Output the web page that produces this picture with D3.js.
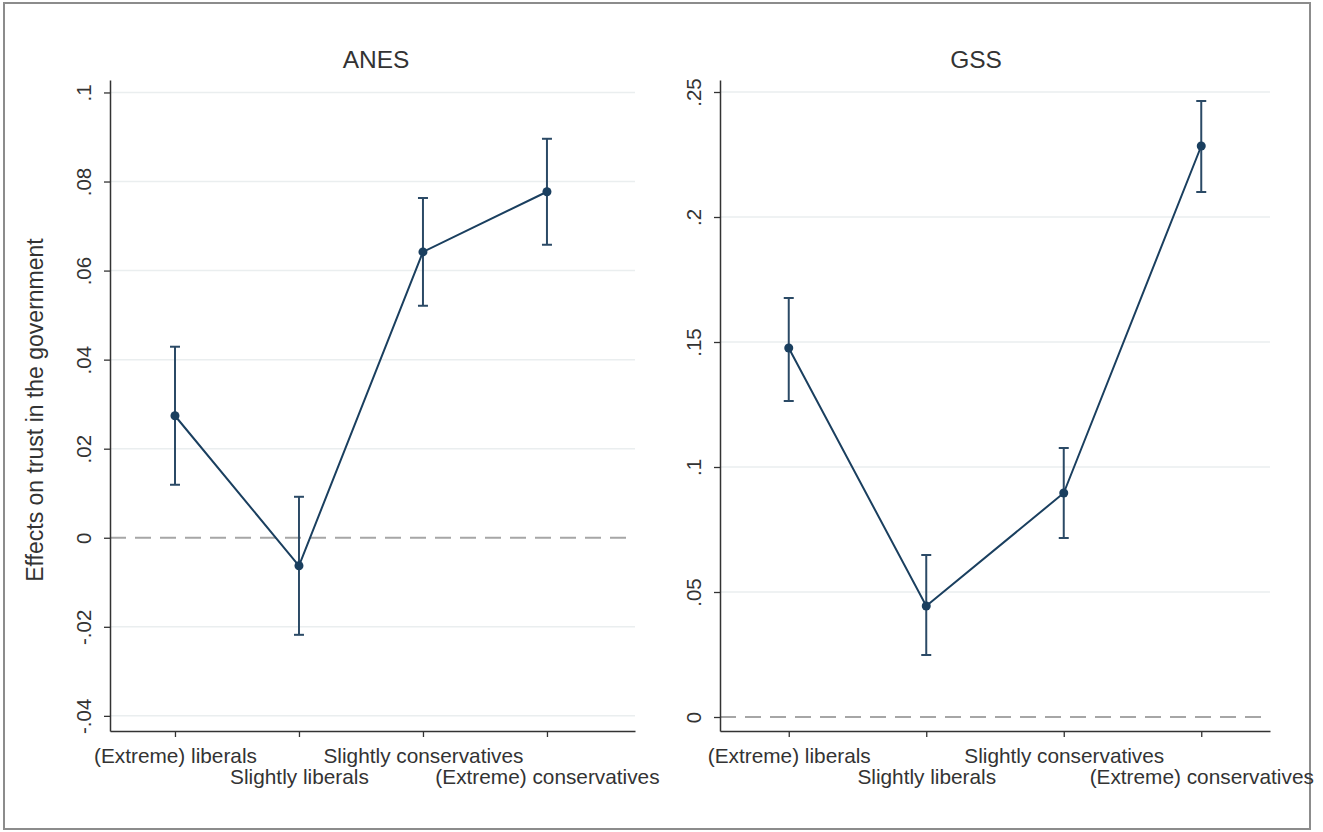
<!DOCTYPE html>
<html>
<head>
<meta charset="utf-8">
<script src="https://cdn.jsdelivr.net/npm/d3@7"></script>
<style>
  html, body { margin: 0; padding: 0; background: #fff; }
  svg { display: block; }
  text { font-family: Arial, "Liberation Sans", sans-serif; fill: #333; }
</style>
</head>
<body>
<svg id="chart" width="1323" height="832"></svg>
<script>
// Ideological groups on the x axis
const categories = ["(Extreme) liberals", "Slightly liberals", "Slightly conservatives", "(Extreme) conservatives"];

// ANES: point estimates and 95% confidence bounds
const anesEst = [0.0274, -0.0063, 0.0642, 0.0777];
const anesLo  = [0.0119, -0.0218, 0.0521, 0.0658];
const anesHi  = [0.0429,  0.0092, 0.0763, 0.0896];

// GSS: point estimates and 95% confidence bounds
const gssEst = [0.1476, 0.0444, 0.0896, 0.2284];
const gssLo  = [0.1264, 0.0248, 0.0716, 0.2100];
const gssHi  = [0.1676, 0.0648, 0.1076, 0.2464];

// Y tick values per panel
const anesTicks = [-0.04, -0.02, 0, 0.02, 0.04, 0.06, 0.08, 0.1];
const gssTicks  = [0, 0.05, 0.1, 0.15, 0.2, 0.25];

const svg = d3.select("#chart");
const lineColor = "#1a3f5f";
const textColor = "#333";
const fmt = v => {
  if (v === 0) return "0";
  const s = String(+v.toFixed(4));
  return s.replace(/^(-?)0\./, "$1.");
};

// outer frame
svg.append("rect")
  .attr("x", 4).attr("y", 3).attr("width", 1306).attr("height", 826)
  .attr("fill", "none").attr("stroke", "#8c8c8c").attr("stroke-width", 2);

function panel(opts) {
  const x = d3.scaleLinear().domain(opts.xDomain).range(opts.xRange);
  const y = d3.scaleLinear().domain(opts.yDomain).range([731, 80]);
  const g = svg.append("g");
  const [x0, x1] = opts.xRange;

  // gridlines
  g.selectAll("line.grid").data(opts.ticks.filter(t => t !== 0)).join("line")
    .attr("class", "grid")
    .attr("x1", x0).attr("x2", x1)
    .attr("y1", d => y(d)).attr("y2", d => y(d))
    .attr("stroke", "#eaeeef").attr("stroke-width", 1.5);

  // zero reference line
  g.append("line")
    .attr("x1", x0).attr("x2", x1)
    .attr("y1", y(0)).attr("y2", y(0))
    .attr("stroke", "#a6a6a6").attr("stroke-width", 2)
    .attr("stroke-dasharray", "16,9");

  // y axis
  const yAxis = d3.axisLeft(y).tickValues(opts.ticks).tickSize(6).tickSizeOuter(0).tickFormat(fmt);
  const yg = g.append("g").attr("transform", `translate(${x0},0)`).call(yAxis);
  yg.select(".domain").attr("stroke", "#333").attr("stroke-width", 1.5);
  yg.selectAll(".tick line").attr("stroke", "#333").attr("stroke-width", 1.3);
  yg.selectAll(".tick text")
    .attr("x", null)
    .attr("transform", "translate(-19,0) rotate(-90)")
    .attr("text-anchor", "middle")
    .attr("dy", "0")
    .style("font-size", "20.5px")
    .style("font-family", "Arial, 'Liberation Sans', sans-serif")
    .attr("fill", textColor);

  // x axis
  const xAxis = d3.axisBottom(x).tickValues([1, 2, 3, 4]).tickSize(6).tickSizeOuter(0)
    .tickFormat(d => categories[d - 1]);
  const xg = g.append("g").attr("transform", "translate(0,731)").call(xAxis);
  xg.select(".domain").attr("stroke", "#333").attr("stroke-width", 1.5);
  xg.selectAll(".tick line").attr("stroke", "#333").attr("stroke-width", 1.3);
  xg.selectAll(".tick text")
    .attr("y", (d, i) => i % 2 === 0 ? 32 : 53)
    .attr("dy", "0")
    .style("font-size", "20.8px")
    .style("font-family", "Arial, 'Liberation Sans', sans-serif")
    .attr("fill", textColor);

  // panel title
  g.append("text")
    .attr("x", opts.titleX).attr("y", 68)
    .attr("text-anchor", "middle")
    .style("font-size", "24.5px")
    .attr("fill", textColor)
    .text(opts.title);

  const rows = opts.est.map((v, i) => ({ c: i + 1, est: v, lo: opts.lo[i], hi: opts.hi[i] }));

  // confidence intervals
  const ci = g.append("g").attr("stroke", "#2b4a66").attr("stroke-width", 2);
  ci.selectAll("line.bar").data(rows).join("line")
    .attr("x1", d => x(d.c)).attr("x2", d => x(d.c))
    .attr("y1", d => y(d.lo)).attr("y2", d => y(d.hi));
  ci.selectAll("line.capHi").data(rows).join("line")
    .attr("x1", d => x(d.c) - 5).attr("x2", d => x(d.c) + 5)
    .attr("y1", d => y(d.hi)).attr("y2", d => y(d.hi));
  ci.selectAll("line.capLo").data(rows).join("line")
    .attr("x1", d => x(d.c) - 5).attr("x2", d => x(d.c) + 5)
    .attr("y1", d => y(d.lo)).attr("y2", d => y(d.lo));

  // connecting line
  g.append("path")
    .datum(rows)
    .attr("fill", "none").attr("stroke", lineColor).attr("stroke-width", 2)
    .attr("d", d3.line().x(d => x(d.c)).y(d => y(d.est)));

  // points
  g.selectAll("circle").data(rows).join("circle")
    .attr("cx", d => x(d.c)).attr("cy", d => y(d.est)).attr("r", 4.5)
    .attr("fill", lineColor);
}

panel({
  title: "ANES", titleX: 376,
  xDomain: [0.476, 4.71], xRange: [110, 635],
  yDomain: [-0.0434, 0.1028], ticks: anesTicks,
  est: anesEst, lo: anesLo, hi: anesHi
});

panel({
  title: "GSS", titleX: 976,
  xDomain: [0.5, 4.5], xRange: [720, 1270],
  yDomain: [-0.0056, 0.2548], ticks: gssTicks,
  est: gssEst, lo: gssLo, hi: gssHi
});

// shared y-axis title
svg.append("text")
  .attr("transform", "translate(43,410) rotate(-90)")
  .attr("text-anchor", "middle")
  .style("font-size", "23px")
  .attr("fill", textColor)
  .text("Effects on trust in the government");
</script>
</body>
</html>
